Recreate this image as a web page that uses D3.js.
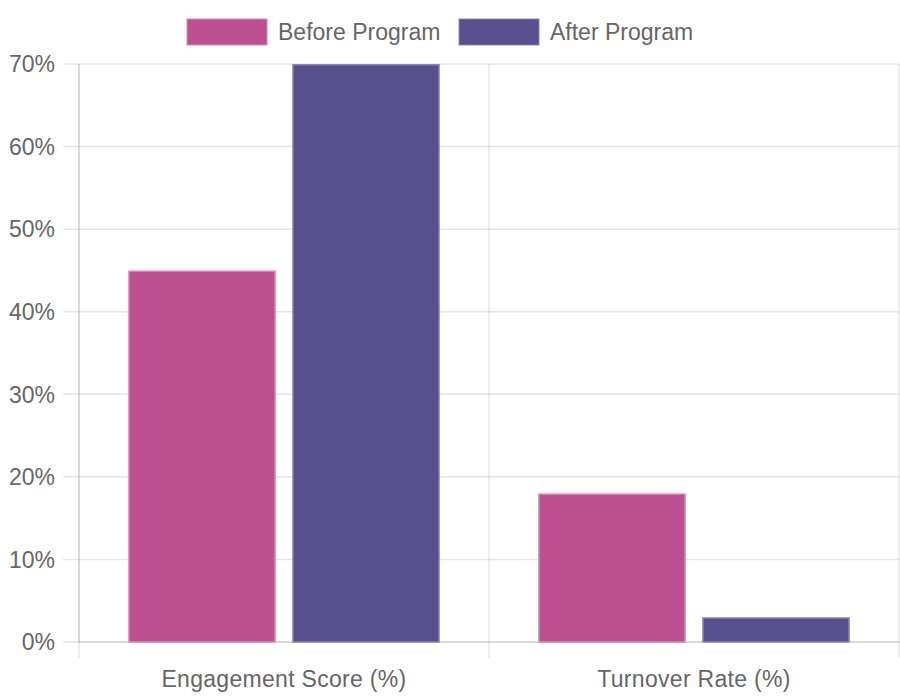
<!DOCTYPE html>
<html>
<head>
<meta charset="utf-8">
<script src="https://cdn.jsdelivr.net/npm/d3@7"></script>
<style>
  body { margin: 0; background: #fff; }
  svg text { font-family: "Liberation Sans", Arial, sans-serif; fill: #666; }
</style>
</head>
<body>
<div id="chart"></div>
<script>
// Data
const categories = ["Engagement Score (%)", "Turnover Rate (%)"];
const seriesNames = ["Before Program", "After Program"];
const beforeValues = [45, 18];
const afterValues = [70, 3];
const yTicks = [0, 10, 20, 30, 40, 50, 60, 70];
const colors = ["#bc5090", "#58508d"];
const borderColors = ["#d68ab6", "#8a84b3"];

const width = 900, height = 700;
const margin = { top: 64, right: 1, bottom: 58, left: 79 };
const innerW = width - margin.left - margin.right;
const innerH = height - margin.top - margin.bottom;

const svg = d3.select("#chart").append("svg")
  .attr("width", width).attr("height", height);

const g = svg.append("g").attr("transform", `translate(${margin.left},${margin.top})`);

const x0 = d3.scaleBand().domain(categories).range([0, innerW]).paddingInner(0).paddingOuter(0);
const x1 = d3.scaleBand().domain(seriesNames).range([x0.bandwidth()*0.1, x0.bandwidth()*0.9]).paddingInner(0.1).paddingOuter(0.05);
const y = d3.scaleLinear().domain([0, 70]).range([innerH, 0]);

const gridColor = "rgba(0,0,0,0.1)";

// horizontal grid + ticks
g.selectAll(".hgrid").data(yTicks).enter().append("line")
  .attr("x1", -16).attr("x2", innerW)
  .attr("y1", d => y(d)).attr("y2", d => y(d))
  .attr("stroke", gridColor).attr("stroke-width", 1.5);

// vertical grid lines at category edges
const edges = [0, x0.bandwidth(), innerW];
g.selectAll(".vgrid").data(edges).enter().append("line")
  .attr("x1", d => d).attr("x2", d => d)
  .attr("y1", 0).attr("y2", innerH + 16)
  .attr("stroke", gridColor).attr("stroke-width", 1.5);

// axis borders
g.append("line").attr("x1", 0).attr("x2", 0).attr("y1", 0).attr("y2", innerH)
  .attr("stroke", gridColor).attr("stroke-width", 1.5);
g.append("line").attr("x1", 0).attr("x2", innerW).attr("y1", innerH).attr("y2", innerH)
  .attr("stroke", gridColor).attr("stroke-width", 1.5);

// y labels
g.selectAll(".ylab").data(yTicks).enter().append("text")
  .attr("x", -24).attr("y", d => y(d)).attr("dy", "0.36em")
  .attr("text-anchor", "end").style("font-size", "23px")
  .text(d => d + "%");

// x labels
g.selectAll(".xlab").data(categories).enter().append("text")
  .attr("x", d => x0(d) + x0.bandwidth()/2).attr("y", innerH + 45)
  .attr("text-anchor", "middle").style("font-size", "23px").style("letter-spacing", "0.3px")
  .text(d => d);

// bars
const rows = categories.map((c, i) => ({ cat: c, vals: [beforeValues[i], afterValues[i]] }));
const groups = g.selectAll(".cat").data(rows).enter().append("g")
  .attr("transform", d => `translate(${x0(d.cat)},0)`);
groups.selectAll("rect").data(d => d.vals.map((v, j) => ({ name: seriesNames[j], v, j }))).enter().append("rect")
  .attr("x", d => x1(d.name) + 0.75)
  .attr("y", d => y(d.v) + 0.75)
  .attr("width", x1.bandwidth() - 1.5)
  .attr("height", d => innerH - y(d.v) - 0.75)
  .attr("fill", d => colors[d.j])
  .attr("stroke", d => borderColors[d.j])
  .attr("stroke-width", 1.5);

// legend
const legendX = [187, 459];
const legend = svg.selectAll(".leg").data(seriesNames).enter().append("g")
  .attr("transform", (d, i) => `translate(${legendX[i]},19)`);
legend.append("rect").attr("width", 80).attr("height", 26)
  .attr("fill", (d, i) => colors[i]).attr("stroke", (d, i) => borderColors[i]).attr("stroke-width", 1);
legend.append("text").attr("x", 91).attr("y", 13).attr("dy", "0.36em")
  .style("font-size", "23px").text(d => d);
</script>
</body>
</html>
